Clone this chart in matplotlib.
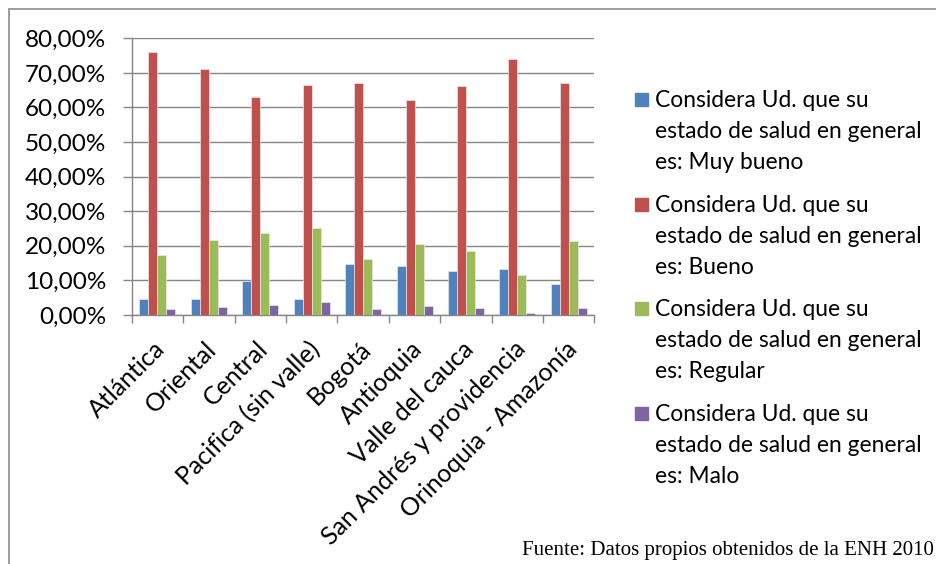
import matplotlib
matplotlib.use("Agg")
import matplotlib.pyplot as plt
from matplotlib.patches import Rectangle
from matplotlib.transforms import ScaledTranslation
import numpy as np

# regiones y porcentajes (ENH 2010)
regiones = ["Atlántica", "Oriental", "Central", "Pacifica (sin valle)", "Bogotá",
            "Antioquia", "Valle del cauca", "San Andrés y providencia",
            "Orinoquia - Amazonía"]
muy_bueno = [4.6, 4.6, 9.9, 4.5, 14.7, 14.1, 12.7, 13.4, 9.1]
bueno = [76.0, 71.0, 62.9, 66.4, 67.0, 62.2, 66.2, 74.0, 67.0]
regular = [17.3, 21.6, 23.7, 25.2, 16.2, 20.6, 18.6, 11.5, 21.4]
malo = [1.6, 2.3, 2.9, 3.7, 1.6, 2.5, 2.1, 0.5, 2.0]

etiquetas = ["Considera Ud. que su\nestado de salud en general\nes: Muy bueno",
             "Considera Ud. que su\nestado de salud en general\nes: Bueno",
             "Considera Ud. que su\nestado de salud en general\nes: Regular",
             "Considera Ud. que su\nestado de salud en general\nes: Malo"]
colores = ["#4F81BD", "#C0504D", "#9BBB59", "#8064A2"]
yticks = [0, 10, 20, 30, 40, 50, 60, 70, 80]

plt.rcParams['font.family'] = ['Lato', 'DejaVu Sans']

W, H = 937, 564
fig = plt.figure(figsize=(W / 100, H / 100), dpi=100)
ax = fig.add_axes([131.7 / W, 1 - 315 / H, (594.5 - 131.7) / W, (315 - 38.3) / H])

x = np.arange(len(regiones))
bw = 0.175
series = [muy_bueno, bueno, regular, malo]
for k, vals in enumerate(series):
    ax.bar(x + (k - 1.5) * bw, vals, bw, color=colores[k], edgecolor="#e8e8e8",
           linewidth=0.5, zorder=3)

grid_c = "#868686"
ax.set_xlim(-0.5, len(regiones) - 0.5)
ax.set_ylim(0, 80)
ax.set_yticks(yticks)
ax.set_yticklabels(["%d,00%%" % v for v in yticks], fontsize=17.5)
ax.yaxis.grid(True, color=grid_c, linewidth=1.0, zorder=0)
ax.set_xticks(np.arange(-0.5, len(regiones)))
ax.set_xticklabels([])

# etiquetas de categoria, giradas 45 grados
off = ScaledTranslation(-0.04, -0.22, fig.dpi_scale_trans)
for i, r in enumerate(regiones):
    ax.text(x[i], 0, r, transform=ax.get_xaxis_transform() + off, rotation=45,
            ha="right", va="top", rotation_mode="anchor", fontsize=18)

ax.tick_params(axis="x", which="major", length=5.8, width=1.0, color=grid_c)
ax.tick_params(axis="y", length=6.5, width=1.0, color=grid_c, pad=12)
for s in ["top", "right"]:
    ax.spines[s].set_visible(False)
for s in ["left", "bottom"]:
    ax.spines[s].set_color(grid_c)
    ax.spines[s].set_linewidth(1.0)

# marco exterior
fig.patches.append(Rectangle((9.5 / W, -0.1), 1.2, 1.1 - 9.5 / H, transform=fig.transFigure,
                             fill=False, edgecolor="#8c8c8c", linewidth=1.2))

# leyenda
for k, lab in enumerate(etiquetas):
    y0 = 107 + k * 104.7
    fig.patches.append(Rectangle((635 / W, 1 - (y0 - 1) / H), 13 / W, 13 / H,
                                 transform=fig.transFigure, color=colores[k]))
    for j, linea in enumerate(lab.split("\n")):
        fig.text(655 / W, 1 - (y0 + j * 31) / H, linea, fontsize=16.4, va="baseline")

fig.text(522 / W, 1 - 555 / H, "Fuente: Datos propios obtenidos de la ENH 2010",
         fontsize=15, family="Liberation Serif", va="baseline")

fig.savefig("out.png", dpi=100)
